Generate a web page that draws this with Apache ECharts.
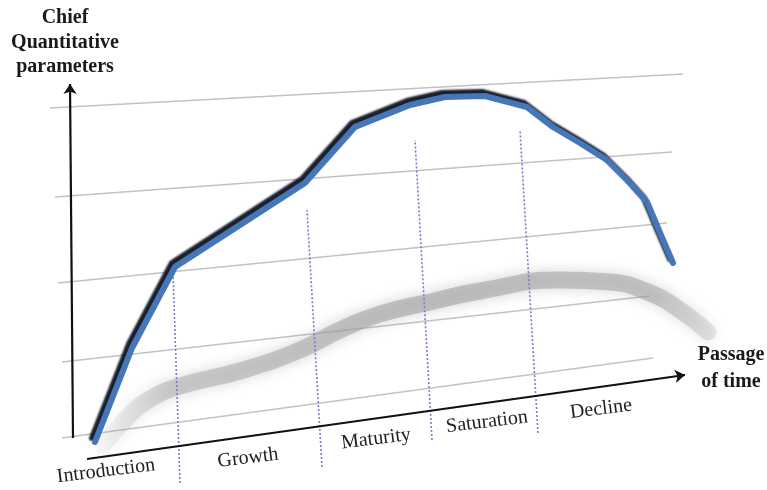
<!DOCTYPE html>
<html>
<head>
<meta charset="utf-8">
<script src="https://cdn.jsdelivr.net/npm/echarts@6/dist/echarts.min.js"></script>
<style>
  html, body { margin: 0; padding: 0; background: #ffffff; }
  #chart { width: 767px; height: 490px; }
</style>
</head>
<body>
<div id="chart"></div>
<script>
// Product life-cycle stages along the time axis
const stages = ['Introduction', 'Growth', 'Maturity', 'Saturation', 'Decline'];

// Main curve in the plot frame: time (left to right) and level (bottom to top)
const curveTime  = [95, 132, 175, 305, 355, 410, 445, 485, 527, 553, 580, 607, 630, 647, 660, 673];
const curveLevel = [48, 142, 223, 307, 363, 385, 393, 394, 383, 363, 347, 330, 307, 288, 257, 227];

// Soft floor shadow cast by the curve
const shadowTime  = [103, 125, 145, 180, 240, 300, 340, 380, 430, 480, 560, 610, 650, 680, 708];
const shadowLevel = [45, 70, 88, 104, 119, 140, 160, 176, 188, 199, 210, 208, 197, 180, 158];

// Receding level rules: start and end points [time, level]
const ruleStart = [[50, 382], [55, 293], [58, 207], [62, 128], [62, 52]];
const ruleEnd   = [[683, 416], [672, 338], [667, 267], [650, 194], [653, 132]];

// Dotted stage boundaries: lower and upper ends [time, level]
const boundaryLow  = [[180, 7], [322, 23], [432, 50], [538, 57]];
const boundaryHigh = [[173, 218], [307, 280], [415, 350], [520, 360]];

// Axis arrows: origin and tip [time, level]
const axisFrom = [[73, 52], [87, 31]];
const axisTo   = [[70, 406], [685, 115]];

const zip = (a, b) => a.map((v, i) => [v, b[i]]);
const segs = (a, b) => a.map((p, i) => ({ coords: [p, b[i]] }));

const SERIF = '"Liberation Serif", "Times New Roman", serif';
const stageLabelAt = [[106, 471], [248, 458], [376, 439], [487, 422], [601, 409]];
const deg = Math.PI / 180;

const chart = echarts.init(document.getElementById('chart'), null, { renderer: 'canvas' });

chart.setOption({
  animation: false,
  backgroundColor: '#ffffff',
  grid: { left: 0, right: 0, top: 0, bottom: 0 },
  xAxis: { type: 'value', min: 0, max: 767, show: false },
  yAxis: { type: 'value', min: 0, max: 490, show: false },
  series: [
    {
      name: 'rules',
      type: 'lines',
      coordinateSystem: 'cartesian2d',
      silent: true,
      z: 1,
      lineStyle: { color: '#c2c2c2', width: 1.7, opacity: 1 },
      data: segs(ruleStart, ruleEnd)
    },
    {
      name: 'floor shadow',
      type: 'line',
      z: 2,
      silent: true,
      smooth: 0.5,
      showSymbol: false,
      data: zip(shadowTime, shadowLevel),
      lineStyle: {
        width: 17,
        cap: 'round',
        color: new echarts.graphic.LinearGradient(0, 0, 1, 0, [
          { offset: 0, color: 'rgba(175,175,175,0.05)' },
          { offset: 0.12, color: 'rgba(160,160,160,0.45)' },
          { offset: 0.5, color: 'rgba(155,155,155,0.55)' },
          { offset: 0.9, color: 'rgba(155,155,155,0.5)' },
          { offset: 1, color: 'rgba(165,165,165,0.25)' }
        ]),
        shadowBlur: 14,
        shadowColor: 'rgba(150,150,150,0.75)'
      }
    },
    {
      name: 'stage boundaries',
      type: 'lines',
      coordinateSystem: 'cartesian2d',
      silent: true,
      z: 3,
      lineStyle: { color: '#7a7ad2', width: 1.6, type: [2, 2], opacity: 1 },
      data: segs(boundaryLow, boundaryHigh)
    },
    {
      name: 'axes',
      type: 'lines',
      coordinateSystem: 'cartesian2d',
      silent: true,
      z: 4,
      symbol: ['none', 'arrow'],
      symbolSize: 10,
      lineStyle: { color: '#111111', width: 2.2, opacity: 1 },
      data: segs(axisFrom, axisTo)
    },
    {
      name: 'life cycle',
      type: 'line',
      z: 5,
      silent: true,
      showSymbol: false,
      data: zip(curveTime, curveLevel),
      lineStyle: {
        width: 6,
        color: '#4576b8',
        join: 'round',
        cap: 'round',
        shadowColor: 'rgba(12,20,36,0.95)',
        shadowOffsetX: -3,
        shadowOffsetY: -4,
        shadowBlur: 2
      }
    }
  ],
  graphic: [
    { type: 'text', x: 65, y: 18, style: { text: 'Chief', font: 'bold 20px ' + SERIF, fill: '#1a1a1a', textAlign: 'center', textVerticalAlign: 'middle' } },
    { type: 'text', x: 65, y: 43, style: { text: 'Quantitative', font: 'bold 20px ' + SERIF, fill: '#1a1a1a', textAlign: 'center', textVerticalAlign: 'middle' } },
    { type: 'text', x: 65, y: 67, style: { text: 'parameters', font: 'bold 20px ' + SERIF, fill: '#1a1a1a', textAlign: 'center', textVerticalAlign: 'middle' } },
    { type: 'text', x: 731, y: 355, style: { text: 'Passage', font: 'bold 20px ' + SERIF, fill: '#1a1a1a', textAlign: 'center', textVerticalAlign: 'middle' } },
    { type: 'text', x: 731, y: 382, style: { text: 'of time', font: 'bold 20px ' + SERIF, fill: '#1a1a1a', textAlign: 'center', textVerticalAlign: 'middle' } }
  ].concat(stages.map((name, i) => ({
    type: 'text',
    x: stageLabelAt[i][0],
    y: stageLabelAt[i][1],
    rotation: 7 * deg,
    style: { text: name, font: '20px ' + SERIF, fill: '#222222', textAlign: 'center', textVerticalAlign: 'middle' }
  })))
});
</script>
</body>
</html>
